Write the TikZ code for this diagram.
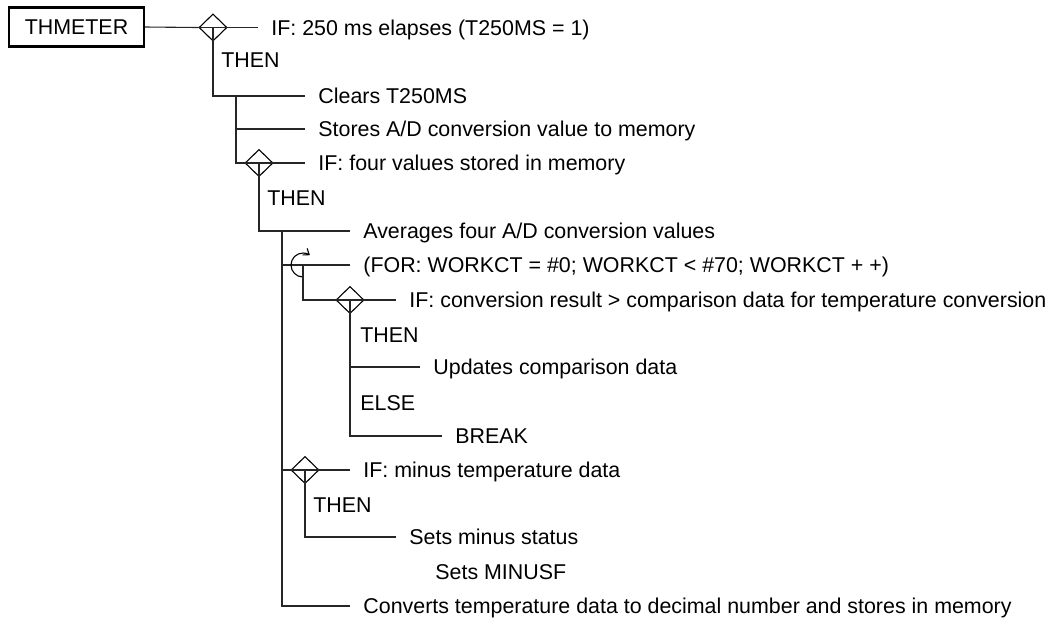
\documentclass[tikz,border=0pt]{standalone}
\usepackage{fontspec}
\setmainfont{Liberation Sans}
\usetikzlibrary{arrows.meta,positioning,shapes.geometric}
\tikzset{
  flowln/.style={line width=0.55pt, black!85},
  boxnd/.style={draw, line width=1.1pt, minimum width=67.5pt, minimum height=19.5pt, inner sep=0pt},
  decis/.style={diamond, draw, line width=0.55pt, minimum width=14pt, minimum height=13.6pt, inner sep=0pt},
  txt/.style={anchor=west, inner xsep=6.5pt, inner ysep=0pt, text height=7.7pt, text depth=0pt},
  lbl/.style={anchor=west, inner sep=0pt, text height=7.7pt, text depth=0pt},
  loopln/.style={line width=0.55pt, -{Straight Barb[length=2.6pt,width=4pt]}},
}

\begin{document}
\begin{tikzpicture}[x=0.5pt, y=0.5pt, font=\fontsize{10.7}{12.8}\selectfont]
    \useasboundingbox (0,0) rectangle (1055,-623);
    % module box and first test
    \node[boxnd] (thmeter) at (76.5,-27) {THMETER};
    \node[decis] (if250) at (213,-27.5) {};
    \node[txt] (t250) at (258,-27.5) {IF: 250 ms elapses (T250MS = 1)};
    \node[lbl] (then1) at (221,-60) {THEN};
    \node[txt] (tclear) at (305,-96) {Clears T250MS};
    \node[txt] (tstore) at (305,-129) {Stores A/D conversion value to memory};
    \node[decis] (iffour) at (259,-163) {};
    \node[txt] (tfour) at (305,-163) {IF: four values stored in memory};
    \node[lbl] (then2) at (267,-198) {THEN};
    \node[txt] (tavg) at (350,-231) {Averages four A/D conversion values};
    % loop over the table
    \coordinate (loop) at (303,-265);
    \node[txt] (tfor) at (350,-265) {(FOR: WORKCT = \#0; WORKCT < \#70; WORKCT + +)};
    \node[decis] (ifconv) at (350,-300) {};
    \node[txt] (tconv) at (396,-300) {IF: conversion result > comparison data for temperature conversion};
    \node[lbl] (then3) at (360,-335) {THEN};
    \node[txt] (tupd) at (420,-367) {Updates comparison data};
    \node[lbl] (else1) at (360,-403) {ELSE};
    \node[txt] (tbreak) at (442,-436) {BREAK};
    % sign test
    \node[decis] (ifminus) at (305,-470) {};
    \node[txt] (tminus) at (350,-470) {IF: minus temperature data};
    \node[lbl] (then4) at (313,-505) {THEN};
    \node[txt] (tsets) at (396,-537) {Sets minus status};
    \node[lbl] (tflag) at (435,-572) {Sets MINUSF};
    \node[txt] (tdec) at (350,-606) {Converts temperature data to decimal number and stores in memory};

    % connectors
    \coordinate (s1) at (236,-96);
    \coordinate (s2) at (282,-231);
    \draw[flowln] (thmeter.east) -- (if250.west);
    \draw[flowln] (if250.west) -- (t250.west);
    \draw[flowln] (if250.center) |- (tclear.west);
    \draw[flowln] (s1) |- (iffour.west);
    \draw[flowln] (s1 |- tstore.west) -- (tstore.west);
    \draw[flowln] (iffour.west) -- (tfour.west);
    \draw[flowln] (iffour.center) |- (tavg.west);
    \draw[flowln] (s2) |- (tdec.west);
    \draw[flowln] (s2 |- tfor.west) -- (tfor.west);
    \draw[loopln] ([shift={(270:12)}]loop) arc[start angle=270, end angle=55, radius=12];
    \draw[flowln] (loop) |- (ifconv.west);
    \draw[flowln] (ifconv.west) -- (tconv.west);
    \draw[flowln] (ifconv.center) |- (tupd.west);
    \draw[flowln] (ifconv.center) |- (tbreak.west);
    \draw[flowln] (s2 |- ifminus.west) -- (tminus.west);
    \draw[flowln] (ifminus.center) |- (tsets.west);
\end{tikzpicture}
\end{document}
